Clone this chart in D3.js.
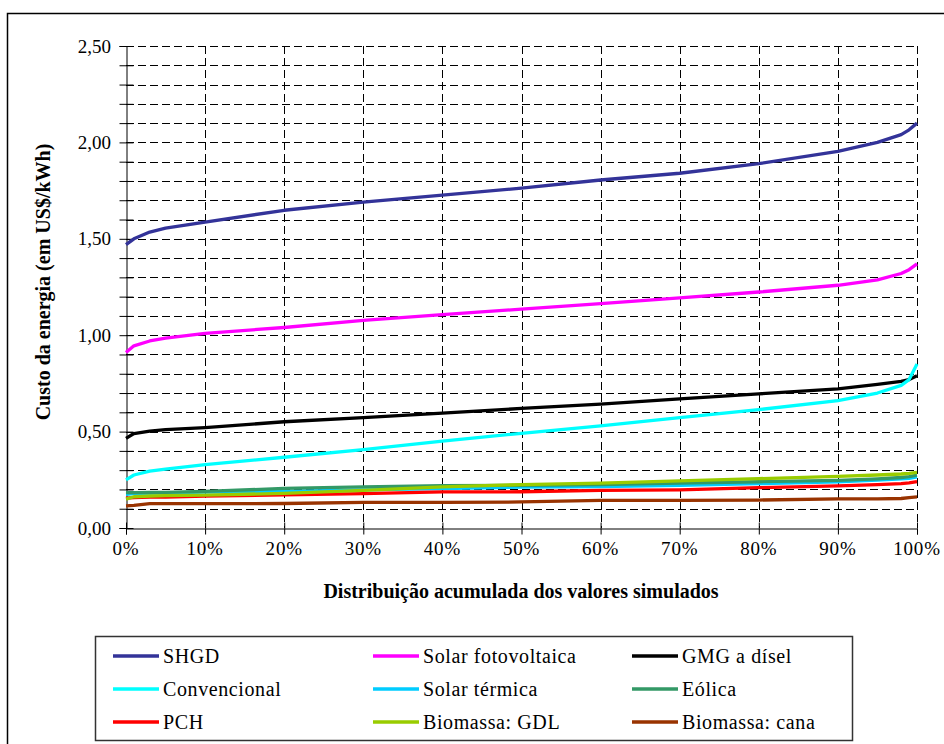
<!DOCTYPE html>
<html>
<head>
<meta charset="utf-8">
<script src="https://cdn.jsdelivr.net/npm/d3@7"></script>
<style>
  html, body { margin: 0; padding: 0; background: #fff; }
  svg { display: block; }
</style>
</head>
<body>
<svg id="chart" width="944" height="744" font-family="Liberation Serif, Times New Roman, Times, serif"></svg>
<script>
// ---- data ----
const xPercent = [0, 1, 3, 5, 10, 20, 30, 40, 50, 60, 70, 80, 90, 95, 98, 99, 100];

const shgd        = [1.47, 1.50, 1.535, 1.555, 1.587, 1.648, 1.69, 1.726, 1.763, 1.805, 1.84, 1.89, 1.953, 2.00, 2.04, 2.065, 2.10];
const solarFoto   = [0.91, 0.945, 0.97, 0.985, 1.01, 1.04, 1.077, 1.107, 1.135, 1.164, 1.194, 1.224, 1.259, 1.287, 1.32, 1.34, 1.37];
const gmgDisel    = [0.465, 0.49, 0.503, 0.51, 0.521, 0.551, 0.573, 0.596, 0.62, 0.642, 0.67, 0.696, 0.722, 0.745, 0.76, 0.77, 0.79];
const convencional= [0.25, 0.275, 0.295, 0.305, 0.329, 0.367, 0.407, 0.451, 0.491, 0.53, 0.573, 0.614, 0.661, 0.70, 0.74, 0.77, 0.85];
const solarTermica= [0.175, 0.178, 0.18, 0.182, 0.186, 0.19, 0.198, 0.205, 0.212, 0.215, 0.221, 0.23, 0.24, 0.248, 0.255, 0.258, 0.265];
const eolica      = [0.183, 0.183, 0.185, 0.185, 0.19, 0.205, 0.213, 0.22, 0.221, 0.225, 0.233, 0.24, 0.247, 0.255, 0.262, 0.266, 0.274];
const pch         = [0.155, 0.158, 0.16, 0.16, 0.166, 0.172, 0.178, 0.187, 0.188, 0.195, 0.198, 0.209, 0.219, 0.225, 0.23, 0.234, 0.24];
const biomassaGdl = [0.15, 0.162, 0.166, 0.168, 0.17, 0.18, 0.195, 0.213, 0.225, 0.233, 0.244, 0.256, 0.268, 0.275, 0.28, 0.283, 0.288];
const biomassaCana= [0.115, 0.117, 0.126, 0.126, 0.126, 0.127, 0.133, 0.133, 0.135, 0.143, 0.143, 0.145, 0.151, 0.151, 0.153, 0.158, 0.161];

const seriesNames = ["SHGD", "Solar fotovoltaica", "GMG a dísel", "Convencional", "Solar térmica", "Eólica", "PCH", "Biomassa: GDL", "Biomassa: cana"];
const seriesValues = [shgd, solarFoto, gmgDisel, convencional, solarTermica, eolica, pch, biomassaGdl, biomassaCana];
const seriesColors = ["#333399", "#FF00FF", "#000000", "#00FFFF", "#00CCFF", "#339966", "#FF0000", "#99CC00", "#993300"];

const yTickValues = [0, 0.5, 1.0, 1.5, 2.0, 2.5];
const yMinorTicks = d3.range(0, 26).map(i => i / 10);
const xTickValues = [0, 10, 20, 30, 40, 50, 60, 70, 80, 90, 100];

const yTitle = "Custo da energia (em US$/kWh)";
const xTitle = "Distribuição acumulada dos valores simulados";

// ---- layout ----
const FONT = "'Liberation Serif', 'Times New Roman', Times, serif";
const svg = d3.select("#chart");
const plot = { left: 126, right: 917, top: 46, bottom: 528 };

const x = d3.scaleLinear().domain([0, 100]).range([plot.left, plot.right]);
const y = d3.scaleLinear().domain([0, 2.5]).range([plot.bottom, plot.top]);

// outer frame
svg.append("rect").attr("x", 7.5).attr("y", 13.5).attr("width", 1000).attr("height", 1000)
  .attr("fill", "none").attr("stroke", "#000").attr("stroke-width", 1.5);

// horizontal grid (dashed)
svg.append("g").selectAll("line").data(yMinorTicks.filter(v => v > 0)).join("line")
  .attr("x1", plot.left).attr("x2", plot.right)
  .attr("y1", d => Math.round(y(d)) + 0.5).attr("y2", d => Math.round(y(d)) + 0.5)
  .attr("stroke", "#000").attr("stroke-width", 1).attr("stroke-dasharray", "8,4");

// vertical grid (dashed)
svg.append("g").selectAll("line").data(xTickValues.filter(v => v > 0)).join("line")
  .attr("x1", d => Math.round(x(d)) + 0.5).attr("x2", d => Math.round(x(d)) + 0.5)
  .attr("y1", plot.top).attr("y2", plot.bottom)
  .attr("stroke", "#000").attr("stroke-width", 1).attr("stroke-dasharray", "8,4");

// y axis
const yAxis = d3.axisLeft(y).tickValues(yMinorTicks).tickSize(7).tickFormat("");
const gy = svg.append("g").attr("transform", `translate(${plot.left + 0.5},0)`).call(yAxis);
gy.select(".domain").attr("stroke", "#000").attr("stroke-width", 1);
gy.selectAll(".tick line").clone().attr("x2", 7);
svg.append("g").selectAll("text").data(yTickValues).join("text")
  .attr("x", 111).attr("y", d => y(d)).attr("dy", "0.35em")
  .attr("text-anchor", "end").style("font-family", FONT).style("font-size", "19px")
  .text(d => d3.format(".2f")(d).replace(".", ","));

// x axis
const xAxis = d3.axisBottom(x).tickValues(xTickValues).tickSize(6).tickFormat("");
const gx = svg.append("g").attr("transform", `translate(0,${plot.bottom + 0.5})`).call(xAxis);
gx.select(".domain").attr("stroke", "#000");
gx.selectAll(".tick line").clone().attr("y2", -6);
svg.append("g").selectAll("text").data(xTickValues).join("text")
  .attr("x", d => x(d)).attr("y", 555)
  .attr("text-anchor", "middle").style("font-family", FONT).style("font-size", "19px")
  .style("letter-spacing", "0.8px")
  .text(d => d + "%");

// axis titles
svg.append("text").attr("x", 521).attr("y", 598).attr("text-anchor", "middle")
  .style("font-family", FONT).style("font-size", "20px").style("font-weight", "bold").text(xTitle);
svg.append("text").attr("transform", "translate(50,282) rotate(-90)")
  .attr("text-anchor", "middle")
  .style("font-family", FONT).style("font-size", "20px").style("font-weight", "bold").text(yTitle);

// lines
const line = d3.line().x((d, i) => x(xPercent[i])).y(d => y(d));
svg.append("g").selectAll("path").data(seriesValues).join("path")
  .attr("d", d => line(d))
  .attr("fill", "none")
  .attr("stroke", (d, i) => seriesColors[i])
  .attr("stroke-width", 3.3)
  .attr("stroke-linejoin", "round");

// legend
const legend = { x: 95.5, y: 636.5, w: 757, h: 104 };
svg.append("rect").attr("x", legend.x).attr("y", legend.y).attr("width", legend.w).attr("height", legend.h)
  .attr("fill", "#fff").attr("stroke", "#333").attr("stroke-width", 1.5);
const colX = [113, 373, 632];
const rowY = [656, 689, 722];
const items = svg.append("g").selectAll("g").data(seriesNames).join("g")
  .attr("transform", (d, i) => `translate(${colX[i % 3]},${rowY[Math.floor(i / 3)]})`);
items.append("line").attr("x1", 0).attr("x2", 46).attr("y1", 0).attr("y2", 0)
  .attr("stroke", (d, i) => seriesColors[i]).attr("stroke-width", 3.3);
items.append("text").attr("x", 50).attr("y", 0).attr("dy", "0.35em")
  .style("font-family", FONT).style("font-size", "20px").style("letter-spacing", "0.6px")
  .text(d => d);
</script>
</body>
</html>
